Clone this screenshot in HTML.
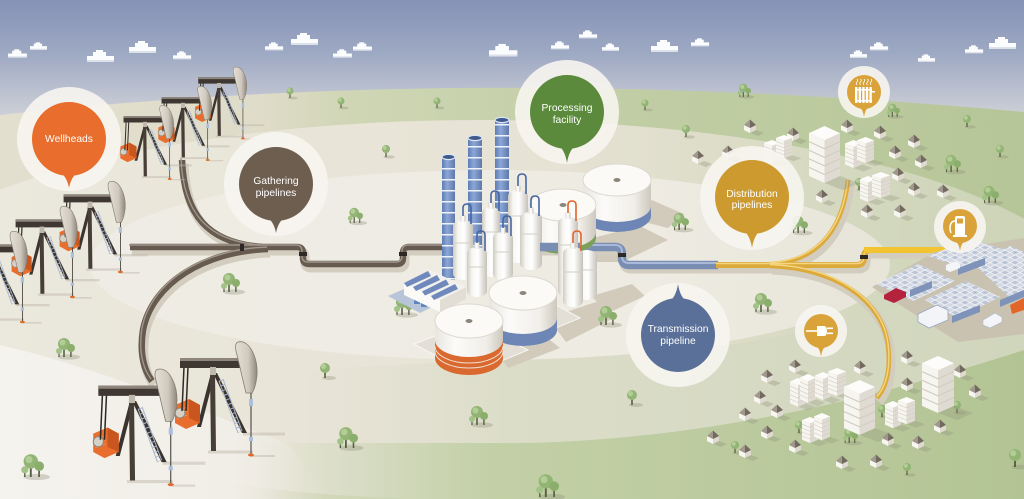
<!DOCTYPE html>
<html><head><meta charset="utf-8"><style>
html,body{margin:0;padding:0;width:1024px;height:499px;overflow:hidden;background:#e8e4d8}
svg{display:block}
.t{font-family:"Liberation Sans",sans-serif;fill:#fff;text-anchor:middle;font-size:10.3px}
</style></head><body>
<svg width="1024" height="499" viewBox="0 0 1024 499" xmlns="http://www.w3.org/2000/svg">
<defs>
<linearGradient id="sky" gradientUnits="userSpaceOnUse" x1="0" y1="0" x2="0" y2="120"><stop offset="0" stop-color="#8592b6"/><stop offset=".45" stop-color="#9ea9c3"/><stop offset=".8" stop-color="#bfc4d1"/><stop offset="1" stop-color="#d0d2d8"/></linearGradient>
<linearGradient id="ff" gradientUnits="userSpaceOnUse" x1="0" y1="0" x2="1024" y2="0"><stop offset="0" stop-color="#e3dfcf"/><stop offset=".25" stop-color="#e0dcca"/><stop offset=".34" stop-color="#d0d6b5"/><stop offset=".55" stop-color="#c3cfa7"/><stop offset="1" stop-color="#b6c698"/></linearGradient>
<linearGradient id="e2g" gradientUnits="userSpaceOnUse" x1="0" y1="0" x2="1024" y2="0"><stop offset="0" stop-color="#ebe8dd"/><stop offset=".55" stop-color="#e6e2d4"/><stop offset=".72" stop-color="#dcdcc7"/><stop offset=".85" stop-color="#d3d8be"/><stop offset="1" stop-color="#cdd4b7"/></linearGradient>
<linearGradient id="lb" gradientUnits="userSpaceOnUse" x1="280" y1="0" x2="1024" y2="0"><stop offset="0" stop-color="#e3e1d3" stop-opacity="0"/><stop offset=".3" stop-color="#dcddc9"/><stop offset="1" stop-color="#d0d6bc"/></linearGradient>
<linearGradient id="bl" gradientUnits="userSpaceOnUse" x1="0" y1="0" x2="330" y2="0"><stop offset="0" stop-color="#f5f3ee"/><stop offset=".7" stop-color="#f1eee7"/><stop offset="1" stop-color="#efece4" stop-opacity="0"/></linearGradient>
<linearGradient id="e1g" gradientUnits="userSpaceOnUse" x1="90" y1="0" x2="890" y2="0"><stop offset="0" stop-color="#efece5"/><stop offset=".7" stop-color="#eeebe2"/><stop offset="1" stop-color="#e7e5d8"/></linearGradient>
<linearGradient id="bg" gradientUnits="userSpaceOnUse" x1="260" y1="0" x2="1024" y2="0"><stop offset="0" stop-color="#c8d4af" stop-opacity="0"/><stop offset=".3" stop-color="#c3d0a7"/><stop offset="1" stop-color="#b3c494"/></linearGradient>
<linearGradient id="vg" x1="0" y1="0" x2="1" y2="0"><stop offset="0" stop-color="#cfcbc3"/><stop offset=".25" stop-color="#f7f6f2"/><stop offset=".55" stop-color="#ffffff"/><stop offset="1" stop-color="#c6c1b8"/></linearGradient>
<linearGradient id="tg" x1="0" y1="0" x2="1" y2="0"><stop offset="0" stop-color="#e9e6e0"/><stop offset=".3" stop-color="#fcfbf9"/><stop offset=".75" stop-color="#f1eee9"/><stop offset="1" stop-color="#cdc8be"/></linearGradient>
<linearGradient id="sg" x1="0" y1="0" x2="1" y2="0"><stop offset="0" stop-color="#5f7db3"/><stop offset=".4" stop-color="#8ba7d7"/><stop offset="1" stop-color="#5e78aa"/></linearGradient>
<linearGradient id="hh" x1="0" y1="0" x2="1" y2="0"><stop offset="0" stop-color="#e4dfd6"/><stop offset=".6" stop-color="#cfc8bd"/><stop offset="1" stop-color="#8f877c"/></linearGradient>
<pattern id="rg" width="20" height="11" patternUnits="userSpaceOnUse" y="3"><rect width="20" height="1.5" fill="#eef3fb"/></pattern>
<pattern id="pv" width="10" height="5" patternUnits="userSpaceOnUse"><rect width="10" height="5" fill="#d3d8e2"/><path d="M0,2.5 L5,0 L10,2.5 L5,5 Z" fill="#bcc5d5" stroke="#f4f6fa" stroke-width=".7"/></pattern>

<g id="cl"><rect x="0" y="5" width="27" height="5" fill="#fbfcfd"/><rect x="6" y="1" width="13" height="5" fill="#fbfcfd"/><rect x="9" y="-1" width="7" height="3" fill="#fbfcfd"/><rect x="0" y="9" width="27" height="2" fill="#dde1ea"/></g>

<g id="tr"><ellipse cx="4" cy="0" rx="7" ry="2" fill="#8e8f78" opacity=".35"/><rect x="-.8" y="-8" width="1.6" height="8" fill="#55603f"/><circle cx="0" cy="-10" r="5" fill="#92b474"/><circle cx="-1.5" cy="-11.5" r="2.6" fill="#b2cd96"/></g>
<g id="tc"><ellipse cx="4" cy="0" rx="11" ry="2.6" fill="#8e8f78" opacity=".35"/><rect x="-1.8" y="-9" width="1.6" height="9" fill="#55603f"/><rect x="5.2" y="-6" width="1.4" height="6" fill="#55603f"/><rect x="-6.6" y="-4" width="1.2" height="4" fill="#55603f"/><circle cx="-1" cy="-13" r="6" fill="#92b474"/><circle cx="-2.5" cy="-14.5" r="3" fill="#b2cd96"/><circle cx="6" cy="-9" r="4" fill="#8cae6d"/><circle cx="-6" cy="-6" r="3" fill="#a2c287"/></g>

<g id="hs"><polygon points="0,1 6,-2 14,1 8,4" fill="#8e927a" opacity=".35"/><polygon points="-6,-7 0,-4 0,1 -6,-2" fill="#f8f6f1"/><polygon points="0,-4 6,-7 6,-2 0,1" fill="#dfdad0"/><polygon points="-6,-7 0,-12.5 0,-4" fill="#a1988d"/><polygon points="0,-12.5 6,-7 0,-4" fill="#72695f"/></g>

<g id="bx"><polygon points="10,40 20,35 32,40 22,45" fill="#8e927a" opacity=".3"/><polygon points="0,5 10,10 10,40 0,35" fill="#f7f5f0"/><polygon points="10,10 20,5 20,35 10,40" fill="#e0dbd2"/><polygon points="0,5 10,0 20,5 10,10" fill="#fdfcfa"/><path d="M0,11 L10,16 L20,11 M0,17 L10,22 L20,17 M0,23 L10,28 L20,23 M0,29 L10,34 L20,29" stroke="#d2ccc1" stroke-width=".8" fill="none"/></g>

<g id="pj">
 <path d="M-5,77 L40,77" stroke="#bdb5a8" stroke-width="3" opacity=".45"/>
 <path d="M30,59 L72,59" stroke="#bdb5a8" stroke-width="3" opacity=".45"/>
 <path d="M38,81 L62,81" stroke="#bdb5a8" stroke-width="2" opacity=".45"/>
 <polygon points="0,-2 4,-2 34,58 29,58" fill="#3b342e"/>
 <path d="M6,6 L25,58 M10,4 L29,56" stroke="#a8b6cc" stroke-width="1" fill="none"/>
 <path d="M8,5 L27,57" stroke="#a8b6cc" stroke-width="4" stroke-dasharray="1 4" fill="none"/>
 <polygon points="-2,-2 2,-2 -12,52 -16,52" fill="#3b342e"/>
 <polygon points="-38,30 -24,24 -13,30 -13,48 -27,54 -38,48" fill="#e96d2c"/>
 <polygon points="-24,24 -13,30 -13,48 -24,43" fill="#c9561f"/>
 <path d="M-36,36 L-26,32 M-36,40 L-26,36 M-36,44 L-26,40" stroke="#f39a66" stroke-width=".7"/>
 <circle cx="-33" cy="38" r="5" fill="#d6d0c6" stroke="#8c8478"/>
 <path d="M-31,36 L-29,-8 M-27,36 L-25,-8" stroke="#2f2a26" stroke-width="1.5"/>
 <polygon points="-3,-2 2,-2 3,76 -2,76" fill="#463e37"/>
 <polygon points="-33,-17 27,-17 27,-7 -33,-7" fill="#3f3832"/>
 <polygon points="-33,-17 27,-17 25,-14 -33,-14" fill="#8e857c"/>
 <rect x="-3" y="-8" width="6" height="8" fill="#bfb8ad"/>
 <path d="M25,-33 C37,-36 45,-16 44,0 C43,10 41,15 39,18 L33,18 C30,6 27,-8 24,-20 C22,-27 22,-32 25,-33 Z" fill="url(#hh)" stroke="#857d72" stroke-width=".8"/>
 <path d="M38,18 L38,80" stroke="#3a3530" stroke-width="1"/>
 <rect x="36" y="24" width="4" height="7" fill="#a9bfdc"/>
 <rect x="36" y="62" width="4" height="4" fill="#a9bfdc"/>
 <ellipse cx="38" cy="80" rx="3" ry="1.5" fill="#e06a2a"/>
</g>

<path id="g1" d="M130,247 L297,247 Q303,247 303,253 L303,258 Q303,264 309,264 L397,264 Q403,264 403,258 L403,253 Q403,247 409,247 L446,247"/>
<path id="g2" d="M182,160 C184,215 208,243 262,247"/>
<path id="g3" d="M268,249 C205,251 152,283 143,330 C139,355 145,372 152,381"/>
<path id="tp" d="M540,247 L615,247 Q622,247 622,254 L622,258 Q622,265 629,265 L718,265"/>
<path id="y1" d="M716,265 L857,265 Q864,265 864,258 L864,257 Q864,250 871,250 L945,250"/>
<path id="y2" d="M770,264 C810,262 842,238 848,180"/>
<path id="y3" d="M770,266 C835,268 882,300 888,345 C891,370 886,388 877,398"/>
</defs>

<!-- SKY & GROUND -->
<rect width="1024" height="499" fill="url(#sky)"/>
<g>
<use href="#cl" transform="translate(8,50) scale(.7)"/>
<use href="#cl" transform="translate(30,43) scale(.63)"/>
<use href="#cl" transform="translate(87,51)"/>
<use href="#cl" transform="translate(129,42)"/>
<use href="#cl" transform="translate(173,52) scale(.67)"/>
<use href="#cl" transform="translate(265,43) scale(.67)"/>
<use href="#cl" transform="translate(291,34)"/>
<use href="#cl" transform="translate(333,50) scale(.7)"/>
<use href="#cl" transform="translate(353,43) scale(.7)"/>
<use href="#cl" transform="translate(489,45) scale(1.05)"/>
<use href="#cl" transform="translate(551,42) scale(.67)"/>
<use href="#cl" transform="translate(579,31) scale(.67)"/>
<use href="#cl" transform="translate(602,44) scale(.63)"/>
<use href="#cl" transform="translate(651,41)"/>
<use href="#cl" transform="translate(691,39) scale(.67)"/>
<use href="#cl" transform="translate(850,51) scale(.63)"/>
<use href="#cl" transform="translate(870,43) scale(.67)"/>
<use href="#cl" transform="translate(918,55) scale(.63)"/>
<use href="#cl" transform="translate(965,46) scale(.67)"/>
<use href="#cl" transform="translate(989,38)"/>
</g>
<path d="M0,115 Q480,62 1024,112 L1024,499 L0,499 Z" fill="url(#ff)"/>
<ellipse cx="480" cy="310" rx="620" ry="190" fill="url(#e2g)"/>
<path d="M280,499 L280,372 C420,362 560,358 680,350 C820,338 930,300 1024,262 L1024,499 Z" fill="url(#lb)"/>
<path d="M0,345 C90,365 200,410 290,445 L330,499 L0,499 Z" fill="url(#bl)"/>
<ellipse cx="490" cy="265" rx="400" ry="95" fill="url(#e1g)"/>
<path d="M260,443 L520,443 C700,440 870,400 1024,350 L1024,499 L260,499 Z" fill="url(#bg)"/>

<!-- refinery ground shadows -->
<g fill="#d2cbbb">
<polygon points="640,195 684,214 668,228 636,220"/>
<polygon points="585,240 640,226 668,240 622,262 590,262"/>
<polygon points="592,296 632,284 645,296 606,314"/>
<polygon points="548,318 596,302 618,316 566,342"/>
<polygon points="496,352 545,336 560,348 508,368"/>
</g>
<polygon points="414,344 470,374 528,350 472,322" fill="#e3dfd6" stroke="#f7f6f2" stroke-width="1"/>
<polygon points="480,312 532,338 580,318 528,290" fill="#e3dfd6" stroke="#f7f6f2" stroke-width="1"/>

<!-- TREES -->
<g>
<use href="#tr" transform="translate(290,98) scale(.7)"/>
<use href="#tr" transform="translate(341,108) scale(.7)"/>
<use href="#tr" transform="translate(437,108) scale(.7)"/>
<use href="#tr" transform="translate(386,157) scale(.8)"/>
<use href="#tr" transform="translate(645,110) scale(.7)"/>
<use href="#tr" transform="translate(686,137) scale(.8)"/>
<use href="#tr" transform="translate(859,190) scale(.8)"/>
<use href="#tr" transform="translate(967,127) scale(.8)"/>
<use href="#tr" transform="translate(1000,157) scale(.8)"/>
<use href="#tr" transform="translate(632,405)"/>
<use href="#tr" transform="translate(325,378)"/>
<use href="#tr" transform="translate(907,475) scale(.8)"/>
<use href="#tr" transform="translate(1015,467) scale(1.2)"/>
<use href="#tr" transform="translate(799,433) scale(.8)"/>
<use href="#tr" transform="translate(735,453) scale(.8)"/>
<use href="#tr" transform="translate(882,417) scale(.8)"/>
<use href="#tr" transform="translate(957,413) scale(.8)"/>
<use href="#tc" transform="translate(355,223) scale(.8)"/>
<use href="#tc" transform="translate(744,97) scale(.7)"/>
<use href="#tc" transform="translate(893,117) scale(.7)"/>
<use href="#tc" transform="translate(952,172) scale(.9)"/>
<use href="#tc" transform="translate(990,203) scale(.9)"/>
<use href="#tc" transform="translate(680,230) scale(.9)"/>
<use href="#tc" transform="translate(799,233) scale(.9)"/>
<use href="#tc" transform="translate(230,292)"/>
<use href="#tc" transform="translate(65,357)"/>
<use href="#tc" transform="translate(347,448) scale(1.1)"/>
<use href="#tc" transform="translate(478,425)"/>
<use href="#tc" transform="translate(32,477) scale(1.2)"/>
<use href="#tc" transform="translate(403,315)"/>
<use href="#tc" transform="translate(607,325)"/>
<use href="#tc" transform="translate(762,312)"/>
<use href="#tc" transform="translate(547,497) scale(1.2)"/>
<use href="#tc" transform="translate(850,443) scale(.8)"/>
</g>

<!-- PIPES -->
<g fill="none" stroke-linecap="butt" stroke-linejoin="round">
<g stroke="#d3cdc0" stroke-width="9" transform="translate(2,4)"><use href="#g1"/><use href="#g2"/><use href="#g3"/><use href="#tp"/><use href="#y1"/><use href="#y2"/><use href="#y3"/></g>
<g stroke="#675b50" stroke-width="6.5"><use href="#g1"/><use href="#g2"/><use href="#g3"/></g>
<g stroke="#a1968a" stroke-width="1.4" transform="translate(-1,-2)"><use href="#g1"/><use href="#g2"/><use href="#g3"/></g>
<use href="#tp" stroke="#7a8eb4" stroke-width="8.5"/>
<use href="#tp" stroke="#a9b9d7" stroke-width="2" transform="translate(0,-2)"/>
<g stroke="#dcaa3a" stroke-width="6"><use href="#y1"/></g>
<g stroke="#dcaa3a" stroke-width="4.5"><use href="#y2"/><use href="#y3"/></g>
<g stroke="#f5d680" stroke-width="1.4" transform="translate(0,-1.5)"><use href="#y1"/><use href="#y2"/><use href="#y3"/></g>
<path d="M864,250 L945,250" stroke="#f2c431" stroke-width="6"/>
</g>
<g fill="#2d2825">
<rect x="299" y="252" width="8" height="4"/><rect x="399" y="252" width="8" height="4"/>
<rect x="618" y="253" width="8" height="4"/><rect x="860" y="255" width="8" height="4"/>
<rect x="240" y="244" width="4" height="7"/>
</g>

<!-- HOUSES -->
<g>
<use href="#hs" transform="translate(750,132)"/><use href="#hs" transform="translate(793,140)"/><use href="#hs" transform="translate(698,163)"/><use href="#hs" transform="translate(728,158)"/><use href="#hs" transform="translate(847,132)"/><use href="#hs" transform="translate(880,138)"/><use href="#hs" transform="translate(914,147)"/><use href="#hs" transform="translate(895,158)"/><use href="#hs" transform="translate(921,167)"/><use href="#hs" transform="translate(898,180)"/><use href="#hs" transform="translate(914,195)"/><use href="#hs" transform="translate(943,197)"/><use href="#hs" transform="translate(822,202)"/><use href="#hs" transform="translate(867,217)"/><use href="#hs" transform="translate(900,217)"/>
<use href="#hs" transform="translate(767,382)"/><use href="#hs" transform="translate(795,372)"/><use href="#hs" transform="translate(860,373)"/><use href="#hs" transform="translate(907,363)"/><use href="#hs" transform="translate(907,390)"/><use href="#hs" transform="translate(960,377)"/><use href="#hs" transform="translate(975,397)"/><use href="#hs" transform="translate(760,403)"/><use href="#hs" transform="translate(745,420)"/><use href="#hs" transform="translate(777,417)"/><use href="#hs" transform="translate(767,438)"/><use href="#hs" transform="translate(713,443)"/><use href="#hs" transform="translate(745,457)"/><use href="#hs" transform="translate(795,452)"/><use href="#hs" transform="translate(842,468)"/><use href="#hs" transform="translate(876,467)"/><use href="#hs" transform="translate(888,445)"/><use href="#hs" transform="translate(918,448)"/><use href="#hs" transform="translate(940,432)"/>
</g>
<!-- BUILDINGS -->
<g>
<use href="#bx" transform="translate(764,140) scale(.8,.58)"/>
<use href="#bx" transform="translate(776,135) scale(.8,.58)"/>
<use href="#bx" transform="translate(809,126) scale(1.55,1.425)"/>
<use href="#bx" transform="translate(845,140) scale(.85,.7)"/>
<use href="#bx" transform="translate(857,137) scale(.85,.65)"/>
<use href="#bx" transform="translate(860,176) scale(.8,.65)"/>
<use href="#bx" transform="translate(872,172) scale(.9,.65)"/>
<use href="#bx" transform="translate(790,378) scale(.8,.72)"/>
<use href="#bx" transform="translate(800,374) scale(.8,.72)"/>
<use href="#bx" transform="translate(815,372) scale(.8,.7)"/>
<use href="#bx" transform="translate(828,368) scale(.9,.7)"/>
<use href="#bx" transform="translate(922,356) scale(1.6,1.425)"/>
<use href="#bx" transform="translate(844,380) scale(1.55,1.375)"/>
<use href="#bx" transform="translate(885,401) scale(.8,.68)"/>
<use href="#bx" transform="translate(898,397) scale(.85,.68)"/>
<use href="#bx" transform="translate(802,417) scale(.8,.65)"/>
<use href="#bx" transform="translate(814,413) scale(.8,.68)"/>
</g>

<!-- SOLAR / PARKING -->
<polygon points="872,287 935,252 1024,238 1024,334 958,342" fill="#c9c2b0"/>
<g fill="url(#pv)">
<polygon points="928,256 970,239 1005,250 963,268"/>
<polygon points="876,284 918,264 955,281 913,301"/>
<polygon points="972,262 1010,246 1024,252 1024,292 1010,298"/>
<polygon points="925,300 966,281 1000,297 958,318"/>
</g>
<g fill="#7f93ba">
<polygon points="910,290 932,281 932,288 910,297"/>
<polygon points="958,268 985,258 985,265 958,275"/>
<polygon points="952,316 980,305 980,312 952,323"/>
<polygon points="1000,300 1024,290 1024,297 1000,307"/>
</g>
<polygon points="884,295 896,288 906,292 906,297 894,303 884,299" fill="#b5223d"/>
<polygon points="918,314 937,305 948,310 948,320 929,328 918,322" fill="#f2f4f8" stroke="#9aa7bd" stroke-width=".8"/>
<polygon points="983,320 995,313 1002,317 1002,322 990,328 983,325" fill="#f4f5f8" stroke="#aab4c6" stroke-width=".6"/>
<polygon points="1010,305 1024,298 1024,310 1012,314" fill="#e2662a"/>
<polygon points="946,265 956,261 960,264 960,268 950,272 946,270" fill="#f4f5f8"/>

<!-- REFINERY -->
<path d="M583,180 L583,216 A34,16 0 0 0 651,216 L651,180 Z" fill="url(#tg)"/>
<path d="M583,206 L583,216 A34,16 0 0 0 651,216 L651,206 A34,16 0 0 1 583,206 Z" fill="#6e86b5"/>
<ellipse cx="617" cy="180" rx="34" ry="16" fill="#fbfaf7" stroke="#dcd8d0"/>
<ellipse cx="617" cy="180" rx="3.5" ry="2" fill="#8d867c"/>
<path d="M530,205 L530,238 A33,16 0 0 0 596,238 L596,205 Z" fill="url(#tg)"/>
<path d="M530,232 L530,238 A33,16 0 0 0 596,238 L596,232 A33,16 0 0 1 530,232 Z" fill="#7aa05a"/>
<ellipse cx="563" cy="205" rx="33" ry="16" fill="#fbfaf7" stroke="#dcd8d0"/>
<ellipse cx="563" cy="205" rx="3.5" ry="2" fill="#8d867c"/>
<rect x="442" y="157" width="13" height="123" fill="url(#sg)"/><rect x="442" y="157" width="13" height="123" fill="url(#rg)"/><ellipse cx="448.5" cy="157" rx="6.5" ry="2.6" fill="#3f5a8c" stroke="#dce6f5" stroke-width="1.2"/>
<rect x="468" y="138" width="14" height="135" fill="url(#sg)"/><rect x="468" y="138" width="14" height="135" fill="url(#rg)"/><ellipse cx="475" cy="138" rx="7" ry="2.6" fill="#3f5a8c" stroke="#dce6f5" stroke-width="1.2"/>
<rect x="495" y="120" width="14" height="140" fill="url(#sg)"/><rect x="495" y="120" width="14" height="140" fill="url(#rg)"/><ellipse cx="502" cy="120" rx="7" ry="2.6" fill="#3f5a8c" stroke="#dce6f5" stroke-width="1.2"/>
<g stroke-width="1.6" fill="none">
<rect x="508" y="190" width="20" height="73" rx="10" ry="6" fill="url(#vg)"/><rect x="515.5" y="185" width="5" height="7" rx="1.5" fill="url(#vg)"/><path d="M518,186 L518,178 Q518,174 522,174 Q526,174 526,178 L526,194" stroke="#4767a3"/><line x1="508" y1="216" x2="528" y2="216" stroke="#d4cfc6" stroke-width="1"/>
<rect x="520" y="212" width="22" height="58" rx="11" ry="6" fill="url(#vg)"/><rect x="528.5" y="207" width="5" height="7" rx="1.5" fill="url(#vg)"/><path d="M531,208 L531,200 Q531,196 535,196 Q539,196 539,200 L539,216" stroke="#4767a3"/><line x1="520" y1="234" x2="542" y2="234" stroke="#d4cfc6" stroke-width="1"/>
<rect x="482" y="207" width="18" height="70" rx="9" ry="6" fill="url(#vg)"/><rect x="488.5" y="202" width="5" height="7" rx="1.5" fill="url(#vg)"/><path d="M491,203 L491,195 Q491,191 495,191 Q499,191 499,195 L499,211" stroke="#4767a3"/><line x1="482" y1="232" x2="500" y2="232" stroke="#d4cfc6" stroke-width="1"/>
<rect x="453" y="220" width="20" height="60" rx="10" ry="6" fill="url(#vg)"/><rect x="460.5" y="215" width="5" height="7" rx="1.5" fill="url(#vg)"/><path d="M463,216 L463,208 Q463,204 467,204 Q471,204 471,208 L471,224" stroke="#4767a3"/><line x1="453" y1="243" x2="473" y2="243" stroke="#d4cfc6" stroke-width="1"/>
<rect x="493" y="232" width="20" height="48" rx="10" ry="6" fill="url(#vg)"/><rect x="500.5" y="227" width="5" height="7" rx="1.5" fill="url(#vg)"/><path d="M503,228 L503,220 Q503,216 507,216 Q511,216 511,220 L511,236" stroke="#4767a3"/><line x1="493" y1="252" x2="513" y2="252" stroke="#d4cfc6" stroke-width="1"/>
<path d="M540,247 L580,247" stroke="#7a8eb4" stroke-width="8.5"/>
<rect x="467" y="247" width="20" height="50" rx="10" ry="6" fill="url(#vg)"/><rect x="474.5" y="242" width="5" height="7" rx="1.5" fill="url(#vg)"/><path d="M477,243 L477,235 Q477,231 481,231 Q485,231 485,235 L485,251" stroke="#4767a3"/><line x1="467" y1="267" x2="487" y2="267" stroke="#d4cfc6" stroke-width="1"/>
<rect x="558" y="217" width="20" height="80" rx="10" ry="6" fill="url(#vg)"/><rect x="565.5" y="212" width="5" height="7" rx="1.5" fill="url(#vg)"/><path d="M568,213 L568,205 Q568,201 572,201 Q576,201 576,205 L576,221" stroke="#e0652a"/><line x1="558" y1="245" x2="578" y2="245" stroke="#d4cfc6" stroke-width="1"/>
<rect x="577" y="250" width="20" height="50" rx="10" ry="6" fill="url(#vg)"/><line x1="577" y1="270" x2="597" y2="270" stroke="#d4cfc6" stroke-width="1"/>
<rect x="563" y="247" width="20" height="60" rx="10" ry="6" fill="url(#vg)"/><rect x="570.5" y="242" width="5" height="7" rx="1.5" fill="url(#vg)"/><path d="M573,243 L573,235 Q573,231 577,231 Q581,231 581,235 L581,251" stroke="#e0652a"/><line x1="563" y1="272" x2="583" y2="272" stroke="#d4cfc6" stroke-width="1"/>
</g>
<path d="M489,293 L489,330 A34,16 0 0 0 557,330 L557,293 Z" fill="url(#tg)"/>
<path d="M489,318 L489,330 A34,16 0 0 0 557,330 L557,318 A34,16 0 0 1 489,318 Z" fill="#6e86b5"/>
<ellipse cx="523" cy="293" rx="34" ry="17" fill="#fbfaf7" stroke="#dcd8d0"/>
<ellipse cx="523" cy="293" rx="3.5" ry="2" fill="#8d867c"/>
<!-- factory -->
<polygon points="388,296 404,289 436,305 420,313" fill="#b8c5d9"/>
<rect x="414" y="300" width="6" height="4" fill="#5f86c0"/><rect x="421" y="303" width="6" height="4" fill="#5f86c0"/>
<polygon points="404,283 440,300 440,312 404,295" fill="#fbfaf7"/>
<polygon points="440,300 466,287 466,299 440,312" fill="#e2ded6"/>
<polygon points="404,283 430,270 466,287 440,300" fill="#f3f1ec"/>
<g fill="#6f89bd">
<polygon points="404,283 428,271 431,276 407,287"/>
<polygon points="413,287 437,275 440,280 416,291"/>
<polygon points="422,291.5 446,279.5 449,284.5 425,295.5"/>
<polygon points="431,296 455,284 458,289 434,300"/>
</g>
<!-- tank D -->
<path d="M435,321 L435,358 A34,17 0 0 0 503,358 L503,321 Z" fill="url(#tg)"/>
<path d="M435,340 L435,358 A34,17 0 0 0 503,358 L503,340 A34,17 0 0 1 435,340 Z" fill="#d9692e"/>
<path d="M435,346 A34,17 0 0 0 503,346 M435,351 A34,17 0 0 0 503,351" stroke="#f2e2d6" stroke-width="1" fill="none"/>
<ellipse cx="469" cy="321" rx="34" ry="17" fill="#fbfaf7" stroke="#dcd8d0"/>
<ellipse cx="469" cy="321" rx="3.5" ry="2" fill="#8d867c"/>

<!-- PUMP JACKS -->
<use href="#pj" transform="translate(219,88) scale(.63)"/>
<use href="#pj" transform="translate(183,108) scale(.65)"/>
<use href="#pj" transform="translate(145,127) scale(.65)"/>
<use href="#pj" transform="translate(90,208) scale(.8)"/>
<use href="#pj" transform="translate(42,233) scale(.8)"/>
<use href="#pj" transform="translate(-8,258) scale(.8)"/>
<use href="#pj" transform="translate(213,375)"/>
<use href="#pj" transform="translate(132,403) scale(1.02)"/>

<!-- BUBBLES -->
<g fill="#f7f5f0" fill-opacity=".9">
<circle cx="69" cy="139" r="52"/>
<circle cx="276" cy="184" r="52"/>
<circle cx="567" cy="112" r="52"/>
<circle cx="752" cy="198" r="52"/>
<circle cx="678" cy="335" r="52"/>
<circle cx="864" cy="92" r="26"/>
<circle cx="960" cy="227" r="26"/>
<circle cx="821" cy="331" r="26"/>
</g>
<circle cx="69" cy="139" r="37" fill="#e96d2c"/><path d="M60,172 Q67,177 69,188 Q71,177 78,172 Z" fill="#e96d2c"/>
<circle cx="276" cy="184" r="37" fill="#6e5e50"/><path d="M267,217 Q274,222 276,233 Q278,222 285,217 Z" fill="#6e5e50"/>
<circle cx="567" cy="112" r="37" fill="#5b8a3c"/><path d="M558,145 Q565,150 567,163 Q569,150 576,145 Z" fill="#5b8a3c"/>
<circle cx="752" cy="197" r="37" fill="#cc9a2e"/><path d="M743,230 Q750,235 752,248 Q754,235 761,230 Z" fill="#cc9a2e"/>
<circle cx="678" cy="335" r="37" fill="#5a7098"/><path d="M669,302 Q676,297 678,284 Q680,297 687,302 Z" fill="#5a7098"/>
<circle cx="864" cy="92" r="17" fill="#d9a33a"/><path d="M858,106 Q863,109 864,117 Q865,109 870,106 Z" fill="#d9a33a"/>
<circle cx="960" cy="226" r="17" fill="#d9a33a"/><path d="M954,240 Q959,243 960,251 Q961,243 966,240 Z" fill="#d9a33a"/>
<circle cx="821" cy="331" r="17" fill="#d9a33a"/><path d="M815,345 Q820,348 821,357 Q822,348 827,345 Z" fill="#d9a33a"/>

<!-- icons -->
<g fill="#fff">
<rect x="855" y="87" width="2.4" height="16"/><rect x="858.6" y="87" width="2.4" height="16"/><rect x="862.2" y="87" width="2.4" height="16"/><rect x="865.8" y="87" width="2.4" height="16"/><rect x="869.4" y="87" width="2.4" height="16"/>
<rect x="855" y="89" width="17" height="1.5"/><rect x="855" y="100" width="17" height="1.5"/><rect x="871.5" y="91" width="3.5" height="1.5"/>
<rect x="955" y="216" width="10" height="20" rx="2"/><rect x="953" y="235" width="14" height="2"/>
<path d="M817,326 L824,326 Q827,326 827,331 Q827,336 824,336 L817,336 Z"/>
<rect x="827" y="327.5" width="6" height="1.6"/><rect x="827" y="332.5" width="6" height="1.6"/>
</g>
<rect x="957" y="218.5" width="6" height="5" fill="#d9a33a"/>
<g fill="none" stroke="#fff">
<path d="M857,85 q-1.5,-1.5 0,-3 q1.5,-1.5 0,-3 M860.5,85 q-1.5,-1.5 0,-3 q1.5,-1.5 0,-3 M864,85 q-1.5,-1.5 0,-3 q1.5,-1.5 0,-3 M867.5,85 q-1.5,-1.5 0,-3 q1.5,-1.5 0,-3 M871,85 q-1.5,-1.5 0,-3 q1.5,-1.5 0,-3" stroke-width=".8"/>
<path d="M955,221 C950,221 949,228 951,233" stroke-width="1.5"/>
<path d="M806,331 L817,331" stroke-width="1.6"/>
</g>

<!-- LABELS -->
<text class="t" x="69" y="142">Wellheads</text>
<text class="t" x="276" y="184">Gathering</text>
<text class="t" x="276" y="196">pipelines</text>
<text class="t" x="567" y="111">Processing</text>
<text class="t" x="567" y="123">facility</text>
<text class="t" x="752" y="197">Distribution</text>
<text class="t" x="752" y="208">pipelines</text>
<text class="t" x="678" y="332">Transmission</text>
<text class="t" x="678" y="344">pipeline</text>
</svg>
</body></html>
